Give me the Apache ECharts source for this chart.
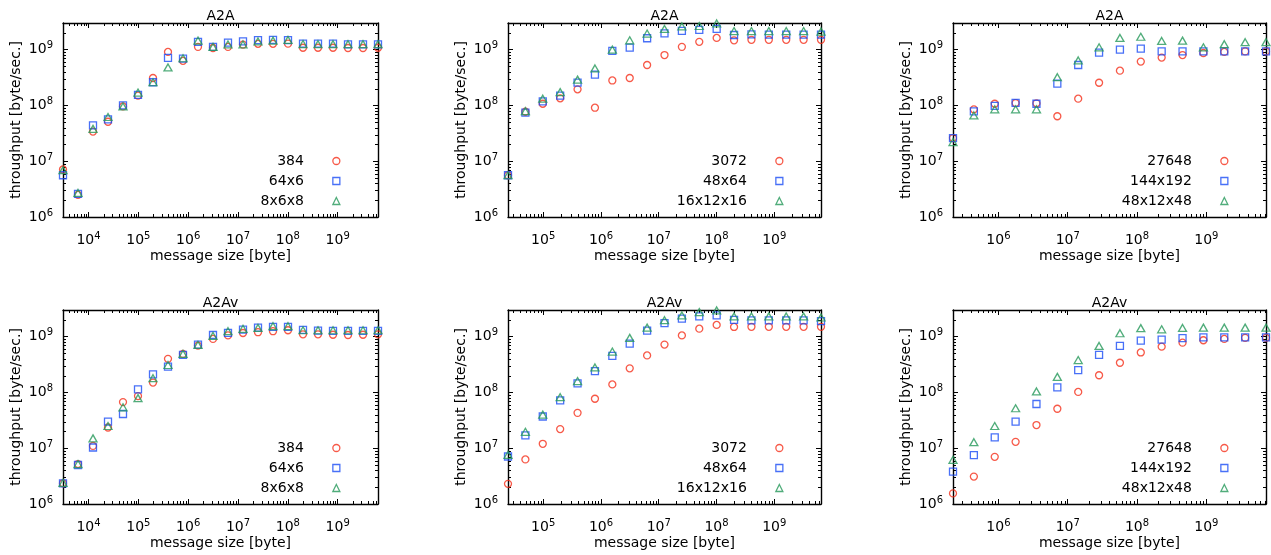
<!DOCTYPE html>
<html>
<head>
<meta charset="utf-8">
<script src="https://cdn.jsdelivr.net/npm/echarts@6/dist/echarts.min.js"></script>
<style>
  html, body { margin: 0; padding: 0; background: #fff; }
  #chart { width: 1271px; height: 555px; }
</style>
</head>
<body>
<div id="chart"></div>
<script>
// Message sizes [byte] for each process count
const sizes384 = [3072, 6144, 12288, 24576, 49152, 98304, 196608, 393216, 786432, 1572864,
  3145728, 6291456, 12582912, 25165824, 50331648, 100663296, 201326592, 402653184,
  805306368, 1610612736, 3221225472, 6442450944];
const sizes3072 = [24576, 49152, 98304, 196608, 393216, 786432, 1572864, 3145728, 6291456,
  12582912, 25165824, 50331648, 100663296, 201326592, 402653184, 805306368, 1610612736,
  3221225472, 6442450944];
const sizes27648 = [221184, 442368, 884736, 1769472, 3538944, 7077888, 14155776, 28311552,
  56623104, 113246208, 226492416, 452984832, 905969664, 1811939328, 3623878656, 7247757312];

// Throughput [byte/sec.] — A2A
const a2a_384 = [7.1e6, 2.5e6, 3.4e7, 5.1e7, 9.6e7, 1.5e8, 3.1e8, 9.1e8, 6.3e8, 1.12e9, 1.07e9,
  1.12e9, 1.23e9, 1.27e9, 1.27e9, 1.28e9, 1.08e9, 1.08e9, 1.08e9, 1.07e9, 1.07e9, 1.08e9];
const a2a_64x6 = [5.6e6, 2.6e6, 4.4e7, 5.6e7, 1.0e8, 1.55e8, 2.6e8, 7.1e8, 6.9e8, 1.38e9, 1.12e9,
  1.33e9, 1.41e9, 1.48e9, 1.49e9, 1.48e9, 1.28e9, 1.28e9, 1.28e9, 1.24e9, 1.24e9, 1.24e9];
const a2a_8x6x8 = [6.9e6, 2.7e6, 3.8e7, 6.2e7, 9.6e7, 1.7e8, 2.6e8, 4.8e8, 7.0e8, 1.45e9, 1.12e9,
  1.24e9, 1.24e9, 1.40e9, 1.45e9, 1.49e9, 1.26e9, 1.25e9, 1.25e9, 1.25e9, 1.25e9, 1.25e9];

const a2a_3072 = [5.6e6, 7.7e7, 1.07e8, 1.34e8, 1.94e8, 9.1e7, 2.8e8, 3.1e8, 5.3e8, 8.0e8, 1.12e9,
  1.38e9, 1.62e9, 1.47e9, 1.5e9, 1.5e9, 1.5e9, 1.5e9, 1.5e9];
const a2a_48x64 = [5.6e6, 7.4e7, 1.18e8, 1.5e8, 2.56e8, 3.55e8, 9.5e8, 1.09e9, 1.6e9, 1.96e9, 2.17e9,
  2.25e9, 2.36e9, 1.83e9, 1.88e9, 1.85e9, 1.85e9, 1.85e9, 1.85e9];
const a2a_16x12x16 = [5.6e6, 7.9e7, 1.32e8, 1.73e8, 2.9e8, 4.6e8, 1.0e9, 1.47e9, 1.94e9, 2.35e9, 2.6e9,
  2.65e9, 2.95e9, 2.15e9, 2.15e9, 2.15e9, 2.15e9, 2.15e9, 2.1e9];

const a2a_27648 = [2.6e7, 8.5e7, 1.07e8, 1.1e8, 1.09e8, 6.4e7, 1.32e8, 2.55e8, 4.2e8, 6.1e8, 7.2e8,
  8.0e8, 8.7e8, 9.1e8, 9.3e8, 9.3e8];
const a2a_144x192 = [2.6e7, 7.8e7, 9.8e7, 1.11e8, 1.07e8, 2.45e8, 5.3e8, 8.8e8, 1.0e9, 1.04e9, 9.3e8,
  9.3e8, 9.3e8, 9.3e8, 9.3e8, 9.3e8];
const a2a_48x12x48 = [2.2e7, 6.6e7, 8.5e7, 8.5e7, 8.5e7, 3.2e8, 6.4e8, 1.1e9, 1.62e9, 1.7e9, 1.43e9,
  1.45e9, 1.1e9, 1.25e9, 1.36e9, 1.36e9];

// Throughput [byte/sec.] — A2Av
const a2av_384 = [2.35e6, 5.2e6, 1.1e7, 2.35e7, 6.7e7, 8.6e7, 1.5e8, 4.0e8, 4.9e8, 6.9e8, 9.1e8,
  1.05e9, 1.16e9, 1.2e9, 1.25e9, 1.3e9, 1.1e9, 1.1e9, 1.08e9, 1.07e9, 1.08e9, 1.1e9];
const a2av_64x6 = [2.35e6, 5.0e6, 1.03e7, 3.0e7, 4.1e7, 1.13e8, 2.1e8, 2.9e8, 4.7e8, 7.2e8, 1.07e9,
  1.17e9, 1.34e9, 1.45e9, 1.5e9, 1.5e9, 1.32e9, 1.28e9, 1.27e9, 1.27e9, 1.27e9, 1.27e9];
const a2av_8x6x8 = [2.4e6, 5.2e6, 1.5e7, 2.5e7, 5.4e7, 7.9e7, 1.8e8, 3.1e8, 4.9e8, 7.1e8, 1.03e9,
  1.25e9, 1.38e9, 1.43e9, 1.54e9, 1.54e9, 1.3e9, 1.3e9, 1.3e9, 1.3e9, 1.3e9, 1.3e9];

const a2av_3072 = [2.3e6, 6.3e6, 1.2e7, 2.2e7, 4.3e7, 7.7e7, 1.39e8, 2.7e8, 4.6e8, 7.2e8, 1.05e9,
  1.39e9, 1.62e9, 1.49e9, 1.5e9, 1.5e9, 1.5e9, 1.5e9, 1.5e9];
const a2av_48x64 = [7.1e6, 1.7e7, 3.7e7, 7.2e7, 1.45e8, 2.4e8, 4.5e8, 7.5e8, 1.28e9, 1.74e9, 2.1e9,
  2.3e9, 2.4e9, 2.0e9, 1.95e9, 1.95e9, 1.95e9, 1.95e9, 1.9e9];
const a2av_16x12x16 = [7.6e6, 1.97e7, 4.0e7, 8.2e7, 1.6e8, 2.8e8, 5.4e8, 9.5e8, 1.45e9, 1.97e9, 2.4e9,
  2.75e9, 2.95e9, 2.3e9, 2.3e9, 2.3e9, 2.3e9, 2.3e9, 2.2e9];

const a2av_27648 = [1.55e6, 3.1e6, 7.0e6, 1.3e7, 2.6e7, 5.1e7, 1.02e8, 2.03e8, 3.4e8, 5.2e8, 6.6e8,
  7.8e8, 8.6e8, 9.1e8, 9.5e8, 9.5e8];
const a2av_144x192 = [3.8e6, 7.5e6, 1.57e7, 3.0e7, 6.2e7, 1.23e8, 2.5e8, 4.7e8, 6.8e8, 8.5e8, 8.8e8,
  9.4e8, 9.7e8, 9.7e8, 9.7e8, 9.7e8];
const a2av_48x12x48 = [6.2e6, 1.28e7, 2.5e7, 5.2e7, 1.04e8, 1.9e8, 3.8e8, 6.8e8, 1.15e9, 1.42e9, 1.35e9,
  1.43e9, 1.45e9, 1.45e9, 1.45e9, 1.45e9];

// Axis text
const xAxisTitle = 'message size [byte]';
const yAxisTitle = 'throughput [byte/sec.]';
const yRange = [1e6, 3e9];

const panels = [
  { title: 'A2A',  x: sizes384,   names: ['384', '64x6', '8x6x8'],            ys: [a2a_384, a2a_64x6, a2a_8x6x8] },
  { title: 'A2A',  x: sizes3072,  names: ['3072', '48x64', '16x12x16'],       ys: [a2a_3072, a2a_48x64, a2a_16x12x16] },
  { title: 'A2A',  x: sizes27648, names: ['27648', '144x192', '48x12x48'],    ys: [a2a_27648, a2a_144x192, a2a_48x12x48] },
  { title: 'A2Av', x: sizes384,   names: ['384', '64x6', '8x6x8'],            ys: [a2av_384, a2av_64x6, a2av_8x6x8] },
  { title: 'A2Av', x: sizes3072,  names: ['3072', '48x64', '16x12x16'],       ys: [a2av_3072, a2av_48x64, a2av_16x12x16] },
  { title: 'A2Av', x: sizes27648, names: ['27648', '144x192', '48x12x48'],    ys: [a2av_27648, a2av_144x192, a2av_48x12x48] }
];

const W = 1271;
const FONT = 'DejaVu Sans';
const INK = '#000';
const COLORS = ['#f5301a', '#1a4cf5', '#25985a'];
const SYMBOLS = ['circle', 'rect', 'triangle'];
const SYMBOL_SIZES = [7, 7, [8, 7]];

const cols = [{ left: 63, width: 315 }, { left: 508, width: 313 }, { left: 953, width: 313 }];
const rows = [{ top: 23, height: 194 }, { top: 310, height: 194 }];

const rich = {
  b: { fontFamily: FONT, fontSize: 14, color: INK, lineHeight: 18 },
  s: { fontFamily: FONT, fontSize: 10, color: INK, lineHeight: 12, verticalAlign: 'top' }
};

function powerLabel(v) {
  const e = Math.log10(v);
  const r = Math.round(e);
  if (Math.abs(e - r) > 1e-6) return '';
  return '{b|10}{s|' + r + '}';
}

// minor ticks at 2..9 x 10^n inside [lo, hi]
function minorValues(lo, hi) {
  const out = [];
  for (let d = Math.floor(Math.log10(lo)); d <= Math.ceil(Math.log10(hi)); d++) {
    for (let m = 2; m <= 9; m++) {
      const v = m * Math.pow(10, d);
      if (v > lo * 1.0001 && v < hi * 0.9999) out.push(v);
    }
  }
  return out;
}

const grid = [], xAxis = [], yAxis = [], series = [], legend = [];

panels.forEach((p, i) => {
  const c = cols[i % 3], r = rows[Math.floor(i / 3)];
  grid.push({ left: c.left, top: r.top, width: c.width, height: r.height, outerBoundsMode: 'none', containLabel: false });
  const xmin = p.x[0], xmax = p.x[p.x.length - 1];

  const lineStyle = { color: INK, width: 1.4 };
  const tick = { show: true, inside: true, length: 5, lineStyle: { color: INK, width: 1 } };

  xAxis.push({
    type: 'log', logBase: 10, gridIndex: i, position: 'bottom', min: xmin, max: xmax,
    name: xAxisTitle, nameLocation: 'middle', nameGap: 32,
    nameTextStyle: { fontFamily: FONT, fontSize: 14, color: INK },
    axisLine: { show: true, onZero: false, lineStyle },
    axisTick: tick,
    axisLabel: { formatter: powerLabel, rich, margin: 14, hideOverlap: false, showMinLabel: true, showMaxLabel: true },
    splitLine: { show: false }, minorTick: { show: false }, minorSplitLine: { show: false }
  });
  xAxis.push({
    type: 'log', logBase: 10, gridIndex: i, position: 'top', min: xmin, max: xmax,
    name: p.title, nameLocation: 'middle', nameGap: 0,
    nameTextStyle: { fontFamily: FONT, fontSize: 14, color: INK },
    axisLine: { show: true, onZero: false, lineStyle },
    axisTick: tick, axisLabel: { show: false },
    splitLine: { show: false }, minorTick: { show: false }
  });
  yAxis.push({
    type: 'log', logBase: 10, gridIndex: i, position: 'left', min: yRange[0], max: yRange[1],
    name: yAxisTitle, nameLocation: 'middle', nameGap: 40,
    nameTextStyle: { fontFamily: FONT, fontSize: 14, color: INK },
    axisLine: { show: true, onZero: false, lineStyle },
    axisTick: tick,
    axisLabel: { formatter: powerLabel, rich, margin: 10, hideOverlap: false },
    splitLine: { show: false }, minorTick: { show: false }, minorSplitLine: { show: false }
  });
  yAxis.push({
    type: 'log', logBase: 10, gridIndex: i, position: 'right', min: yRange[0], max: yRange[1],
    axisLine: { show: true, onZero: false, lineStyle },
    axisTick: tick, axisLabel: { show: false },
    splitLine: { show: false }, minorTick: { show: false }
  });

  p.names.forEach((name, k) => {
    series.push({
      type: 'scatter', name, xAxisIndex: 2 * i, yAxisIndex: 2 * i,
      data: p.x.map((xv, j) => [xv, p.ys[k][j]]),
      symbol: SYMBOLS[k], symbolSize: SYMBOL_SIZES[k],
      itemStyle: { color: 'rgba(255,255,255,0)', borderColor: COLORS[k], borderWidth: 1.3 },
      emphasis: { disabled: true }, clip: false, silent: true, animation: false
    });
  });

  // minor ticks on all four sides
  const xMinor = minorValues(xmin, xmax);
  const yMinor = minorValues(yRange[0], yRange[1]);
  series.push({
    type: 'custom', xAxisIndex: 2 * i, yAxisIndex: 2 * i, silent: true, animation: false,
    data: [[xmin, yRange[0]]],
    renderItem: function (params, api) {
      const cs = params.coordSys;
      const st = { stroke: INK, lineWidth: 1 };
      const kids = [];
      xMinor.forEach(v => {
        const px = Math.round(api.coord([v, yRange[0]])[0]) + 0.5;
        kids.push({ type: 'line', shape: { x1: px, y1: cs.y + cs.height, x2: px, y2: cs.y + cs.height - 3 }, style: st });
        kids.push({ type: 'line', shape: { x1: px, y1: cs.y, x2: px, y2: cs.y + 3 }, style: st });
      });
      yMinor.forEach(v => {
        const py = Math.round(api.coord([xmin, v])[1]) + 0.5;
        kids.push({ type: 'line', shape: { x1: cs.x, y1: py, x2: cs.x + 3, y2: py }, style: st });
        kids.push({ type: 'line', shape: { x1: cs.x + cs.width, y1: py, x2: cs.x + cs.width - 3, y2: py }, style: st });
      });
      return { type: 'group', children: kids };
    }
  });

  // key: labels right-aligned, marker 41px in from the right frame
  legend.push({
    orient: 'vertical', align: 'right',
    right: W - (c.left + c.width - 37.5), top: r.top + 128,
    itemWidth: 7, itemHeight: 7, itemGap: 0, padding: 0,
    selectedMode: false,
    data: p.names.map((n, k) => ({ name: n, icon: SYMBOLS[k] })),
    itemStyle: { borderWidth: 1.3 },
    textStyle: { fontFamily: FONT, fontSize: 14, color: INK, lineHeight: 20, padding: [0, 24, 0, 0] }
  });
});

const chart = echarts.init(document.getElementById('chart'), null, { renderer: 'canvas' });
chart.setOption({
  backgroundColor: '#fff',
  animation: false,
  textStyle: { fontFamily: FONT, color: INK },
  grid, xAxis, yAxis, series, legend
});
</script>
</body>
</html>
